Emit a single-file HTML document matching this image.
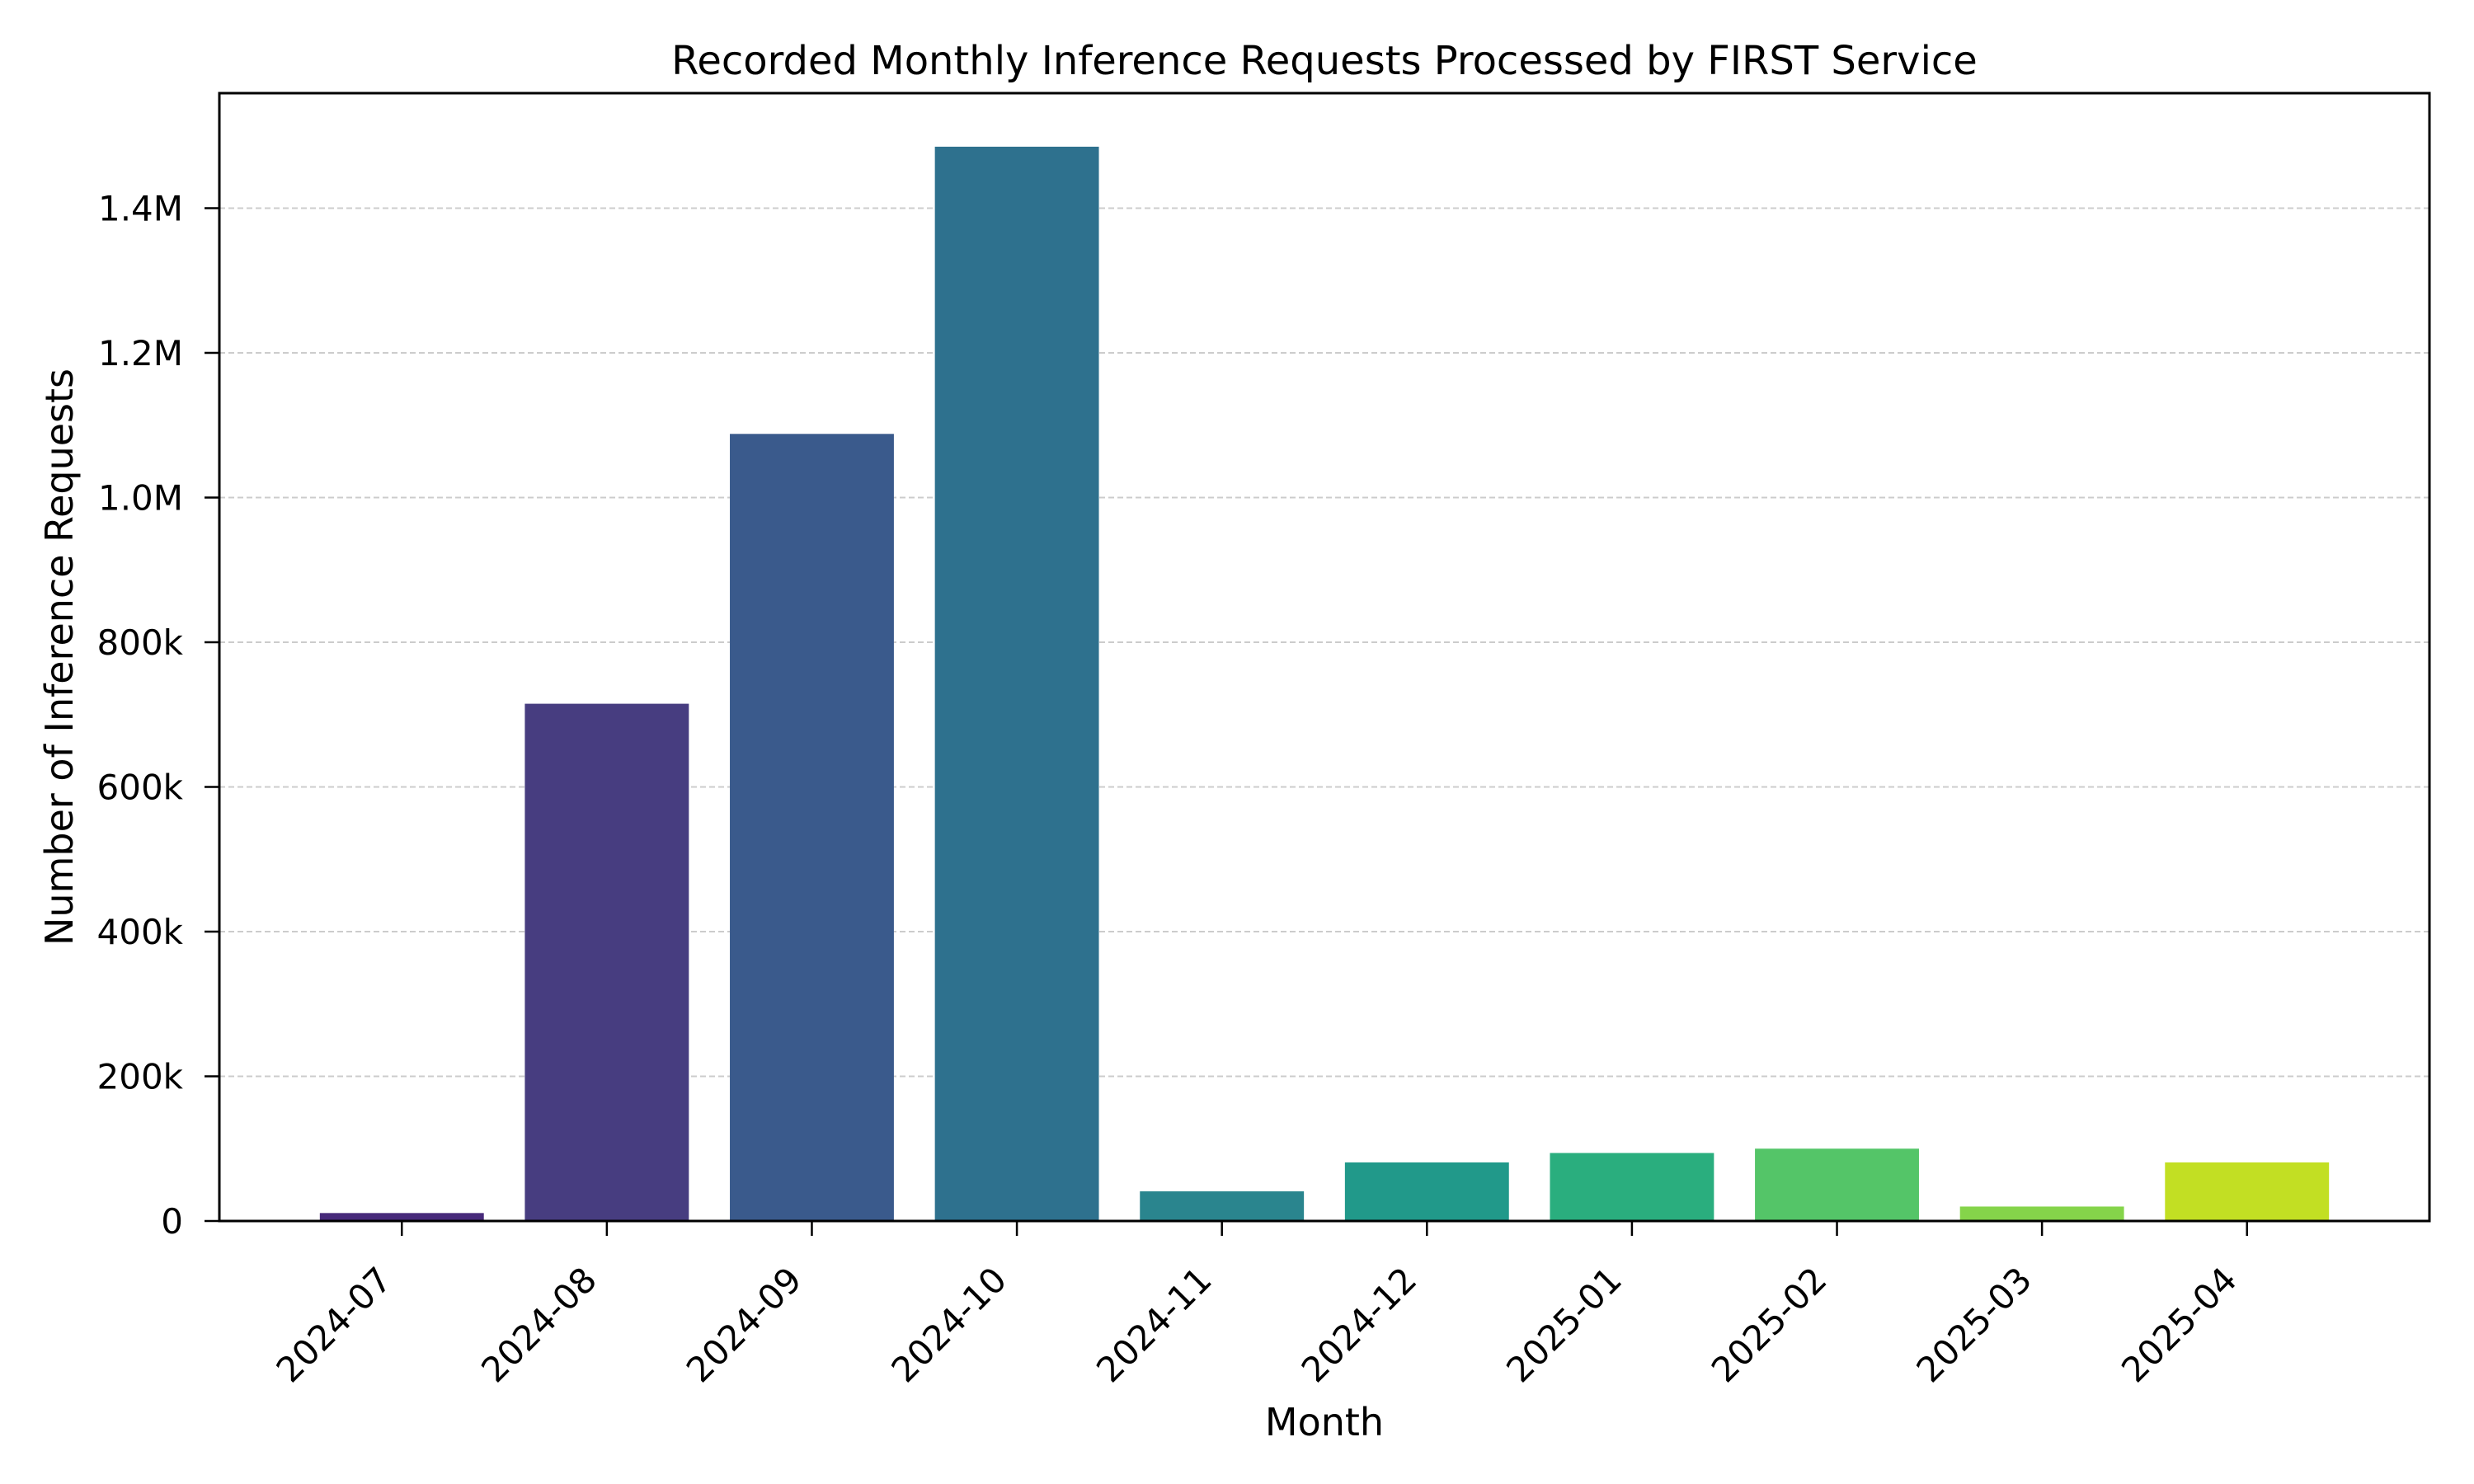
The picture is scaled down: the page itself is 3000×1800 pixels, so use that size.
<!DOCTYPE html>
<html><head><meta charset="utf-8"><style>
html,body{margin:0;padding:0;background:#fff;}
svg{display:block;font-family:"DejaVu Sans","Liberation Sans",sans-serif;}
</style></head><body>
<svg id="chart" width="3000" height="1800" viewBox="0 0 3000 1800" xmlns="http://www.w3.org/2000/svg">
<rect width="3000" height="1800" fill="#fff"/>
<g id="grid"></g><g id="bars"></g><g id="axes"></g>
</svg>
<script>
const categories = ["2024-07","2024-08","2024-09","2024-10","2024-11","2024-12","2025-01","2025-02","2025-03","2025-04"];
const values = [11000,715000,1088000,1485000,41000,81000,94000,100000,20000,81000];
const colors = ["#472a7a","#473d80","#3a5a8c","#2e718e","#2a858e","#21998a","#2aae7e","#54c568","#85d44a","#c2df23"];
const yTicks = [0,200000,400000,600000,800000,1000000,1200000,1400000];
const yTickLabels = ["0","200k","400k","600k","800k","1.0M","1.2M","1.4M"];

const NS="http://www.w3.org/2000/svg";
const L=266,R=2946,T=113,B=1481;
const yMax=1559000;
const xMin=-0.89,xMax=categories.length-1+0.89;
const xs=i=>L+(i-xMin)/(xMax-xMin)*(R-L);
const ys=v=>B-v/yMax*(B-T);
const bw=0.8*(R-L)/(xMax-xMin);
function mk(tag,attrs,parent){const e=document.createElementNS(NS,tag);for(const k in attrs)e.setAttribute(k,attrs[k]);parent.appendChild(e);return e;}
const grid=document.getElementById('grid'),bars=document.getElementById('bars'),axes=document.getElementById('axes');
yTicks.forEach((v,i)=>{
  if(v>0){const g=mk('line',{x1:L,x2:R,y1:ys(v),y2:ys(v),stroke:'#cccccc','stroke-width':2,'stroke-dasharray':'7,4'},grid);
  
  }
  const t=mk('line',{x1:L-18,x2:L,y1:ys(v),y2:ys(v),stroke:'#000','stroke-width':2.5},axes);
  
  
  const lb=mk('text',{x:L-44,y:ys(v)+15,'text-anchor':'end','font-size':42,fill:'#000'},axes);
  lb.textContent=yTickLabels[i];
  
  
});
categories.forEach((c,i)=>{
  const cx=xs(i);
  const b=mk('rect',{x:cx-bw/2,y:ys(values[i]),width:bw,height:B-ys(values[i]),fill:colors[i]},bars);
  
  
  const t=mk('line',{x1:cx,x2:cx,y1:B,y2:B+18,stroke:'#000','stroke-width':2.5},axes);
  
  
  const ax=cx-10,ay=B+74;
  const lb=mk('text',{x:ax,y:ay,'text-anchor':'end','font-size':42,fill:'#000',transform:`rotate(-45 ${ax} ${ay})`},axes);
  lb.textContent=c;
  
  
});
const fr=mk('rect',{x:L,y:T,width:R-L,height:B-T,fill:'none',stroke:'#000','stroke-width':3},axes);


const ti=mk('text',{x:(L+R)/2,y:90,'text-anchor':'middle','font-size':48,fill:'#000'},axes);
ti.textContent='Recorded Monthly Inference Requests Processed by FIRST Service';


const xt=mk('text',{x:(L+R)/2,y:1741,'text-anchor':'middle','font-size':46,fill:'#000'},axes);
xt.textContent='Month';


const yt=mk('text',{x:88,y:(T+B)/2,'text-anchor':'middle','font-size':46,fill:'#000',transform:`rotate(-90 88 ${(T+B)/2})`},axes);
yt.textContent='Number of Inference Requests';


</script>
</body></html>
